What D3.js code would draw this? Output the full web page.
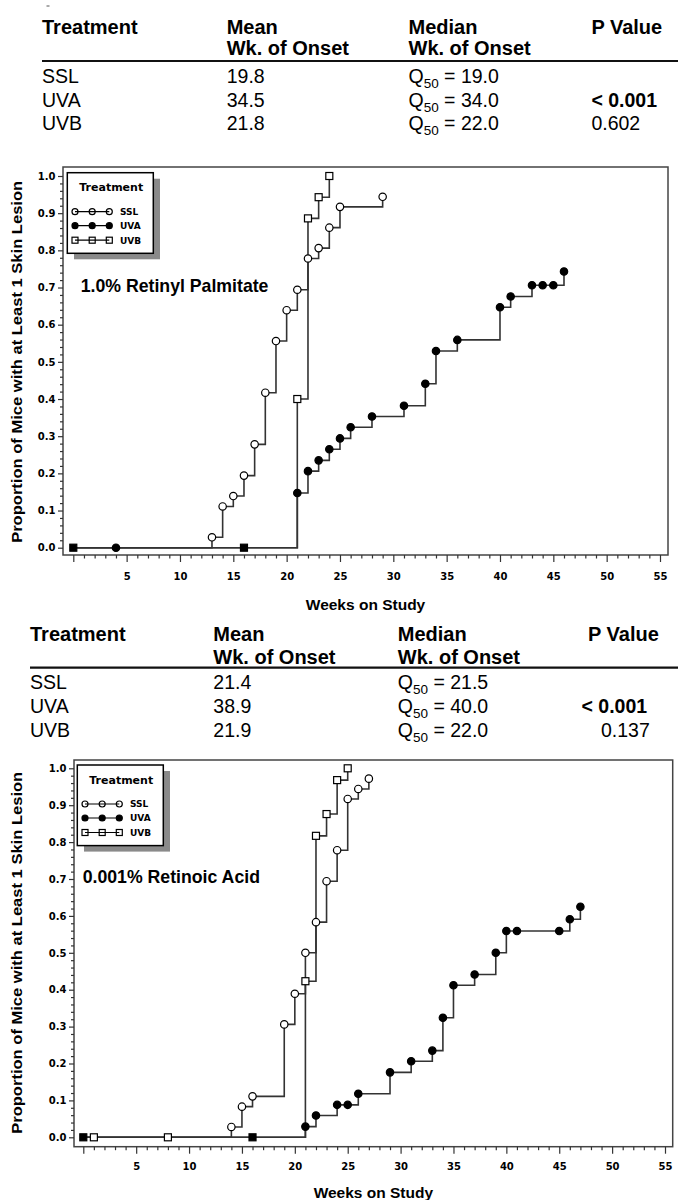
<!DOCTYPE html>
<html><head><meta charset="utf-8">
<script src="https://cdn.jsdelivr.net/npm/d3@7"></script>
<style>body{margin:0;background:#fff}svg{display:block}</style>
</head><body>
<svg id="c" width="678" height="1200"></svg>
<script>
// ---------- DATA ----------
const treatments = ["SSL", "UVA", "UVB"];
const tableHeaders1 = ["Treatment", "Mean", "Median", "P Value"];
const tableHeaders2 = ["", "Wk. of Onset", "Wk. of Onset", ""];

// 1.0% Retinyl Palmitate
const rpMean = ["19.8", "34.5", "21.8"];
const rpMedian = ["19.0", "34.0", "22.0"];
const rpP = ["", "< 0.001", "0.602"];
const rpSslWeeks = [13, 14, 15, 16, 17, 18, 19, 20, 21, 22, 23, 24, 25, 29];
const rpSslProp = [0.028, 0.111, 0.139, 0.194, 0.278, 0.417, 0.556, 0.639, 0.694, 0.778, 0.806, 0.861, 0.917, 0.944];
const rpUvaWeeks = [21, 22, 23, 24, 25, 26, 28, 31, 33, 34, 36, 40, 41, 43, 44, 45, 46];
const rpUvaProp = [0.147, 0.206, 0.235, 0.265, 0.294, 0.324, 0.353, 0.382, 0.441, 0.529, 0.559, 0.647, 0.676, 0.706, 0.706, 0.706, 0.743];
const rpUvbWeeks = [21, 22, 23, 24];
const rpUvbProp = [0.400, 0.886, 0.943, 1.000];
const rpZeroFilledSquares = [0, 16];
const rpUvaZeroMarks = [4];
const rpUvbZeroMarks = [];

// 0.001% Retinoic Acid
const raMean = ["21.4", "38.9", "21.9"];
const raMedian = ["21.5", "40.0", "22.0"];
const raP = ["", "< 0.001", "0.137"];
const raSslWeeks = [14, 15, 16, 19, 20, 21, 22, 23, 24, 25, 26, 27];
const raSslProp = [0.028, 0.083, 0.111, 0.306, 0.389, 0.500, 0.583, 0.694, 0.778, 0.917, 0.944, 0.972];
const raUvaWeeks = [21, 22, 24, 25, 26, 29, 31, 33, 34, 35, 37, 39, 40, 41, 45, 46, 47];
const raUvaProp = [0.029, 0.059, 0.088, 0.088, 0.118, 0.176, 0.206, 0.235, 0.324, 0.412, 0.441, 0.500, 0.559, 0.559, 0.559, 0.591, 0.625];
const raUvbWeeks = [21, 22, 23, 24, 25];
const raUvbProp = [0.423, 0.817, 0.876, 0.968, 1.000];
const raZeroFilledSquares = [0, 16];
const raUvaZeroMarks = [];
const raUvbZeroMarks = [1, 8];

const xMajorTicks = [0, 5, 10, 15, 20, 25, 30, 35, 40, 45, 50, 55];
const yMajorTicks = [0, 0.1, 0.2, 0.3, 0.4, 0.5, 0.6, 0.7, 0.8, 0.9, 1.0];
const xTitle = "Weeks on Study";
const yTitle = "Proportion of Mice with at Least 1 Skin Lesion";
const legendTitle = "Treatment";

// ---------- DRAW ----------
const svg = d3.select("#c");
const SANS = "'Liberation Sans', Arial, sans-serif";
const DJ = "'DejaVu Sans', sans-serif";
const LINE = "#333";

// tiny mark at top-left
svg.append("line").attr("x1", 46.5).attr("x2", 49.5).attr("y1", 6).attr("y2", 6)
  .attr("stroke", "#555").attr("stroke-width", 1);

function drawTable(L, means, medians, pvals) {
  const g = svg.append("g");
  tableHeaders1.forEach((h, i) => {
    g.append("text").attr("x", i === 3 ? L.pHeadX : L.cols[i]).attr("y", L.h1)
      .attr("font-family", SANS).attr("font-weight", "bold").attr("font-size", 20).text(h);
  });
  tableHeaders2.forEach((h, i) => {
    if (!h) return;
    g.append("text").attr("x", L.cols[i]).attr("y", L.h2)
      .attr("font-family", SANS).attr("font-weight", "bold").attr("font-size", 20).text(h);
  });
  g.append("line").attr("x1", L.cols[0]).attr("x2", 678).attr("y1", L.rule).attr("y2", L.rule)
    .attr("stroke", "#111").attr("stroke-width", 2.2);
  treatments.forEach((t, r) => {
    const y = L.rows[r];
    g.append("text").attr("x", L.cols[0]).attr("y", y).attr("font-family", SANS)
      .attr("font-size", 19.5).text(t);
    g.append("text").attr("x", L.cols[1]).attr("y", y).attr("font-family", SANS)
      .attr("font-size", 19.5).text(means[r]);
    const q = g.append("text").attr("x", L.cols[2]).attr("y", y).attr("font-family", SANS)
      .attr("font-size", 19.5);
    q.append("tspan").text("Q");
    q.append("tspan").attr("font-size", 13.5).attr("dy", 5).text("50");
    q.append("tspan").attr("dy", -5).text(" = " + medians[r]);
    if (pvals[r]) {
      g.append("text").attr("x", L.pX[r]).attr("y", y).attr("font-family", SANS)
        .attr("font-size", 19.5).attr("font-weight", pvals[r].startsWith("<") ? "bold" : "normal")
        .text(pvals[r]);
    }
  });
}

drawTable({cols: [42, 226.7, 408.5], pHeadX: 591.4, h1: 34.3, h2: 54.8, rule: 61, rows: [83.3, 106.7, 130], pX: [0, 591.4, 591.4]},
  rpMean, rpMedian, rpP);
drawTable({cols: [30, 213.3, 397.8], pHeadX: 588, h1: 640.7, h2: 664, rule: 667.7, rows: [689, 713.3, 737.3], pX: [0, 581.5, 601]},
  raMean, raMedian, raP);

function zip(w, p) { return w.map((d, i) => ({w: d, p: p[i]})); }

function marker(g, shape, filled, x, y, size, fillNone) {
  if (shape === "circle") {
    g.append("circle").attr("cx", x).attr("cy", y).attr("r", size)
      .attr("fill", filled ? "#000" : (fillNone ? "none" : "#fff"))
      .attr("stroke", "#000").attr("stroke-width", 1.2);
  } else {
    g.append("rect").attr("x", x - size).attr("y", y - size).attr("width", size * 2).attr("height", size * 2)
      .attr("fill", filled ? "#000" : (fillNone ? "none" : "#fff"))
      .attr("stroke", "#000").attr("stroke-width", 1.2);
  }
}

function drawChart(L, title, series, zeroSquares) {
  const g = svg.append("g");
  const x = d3.scaleLinear().domain([0, 55]).range([L.x0, L.x55]);
  const y = d3.scaleLinear().domain([0, 1]).range([L.y0, L.y1]);

  // frame
  g.append("rect").attr("x", L.left).attr("y", L.top).attr("width", L.right - L.left)
    .attr("height", L.bottom - L.top).attr("fill", "none").attr("stroke", "#444").attr("stroke-width", 1.5);

  // x axis
  const xa = g.append("g").attr("transform", `translate(0,${L.bottom})`)
    .call(d3.axisBottom(x).tickValues(xMajorTicks).tickSize(7).tickPadding(L.tickPad)
      .tickFormat(d => d === 0 ? "" : d));
  const xm = g.append("g").attr("transform", `translate(0,${L.bottom})`)
    .call(d3.axisBottom(x).tickValues(d3.range(0, 56).filter(d => d % 5 !== 0)).tickSize(3.5).tickFormat(""));
  // y axis
  const ya = g.append("g").attr("transform", `translate(${L.left},0)`)
    .call(d3.axisLeft(y).tickValues(yMajorTicks).tickSize(5).tickPadding(2.5).tickFormat(d3.format(".1f")));
  const ym = g.append("g").attr("transform", `translate(${L.left},0)`)
    .call(d3.axisLeft(y).tickValues(d3.range(0, 51).filter(d => d % 5 !== 0).map(d => d / 50)).tickSize(3).tickFormat(""));
  [xa, xm, ya, ym].forEach(a => {
    a.select(".domain").remove();
    a.selectAll("line").attr("stroke", "#333").attr("stroke-width", 1.2);
    a.selectAll("text").attr("font-family", DJ).attr("font-weight", "bold").attr("font-size", 10).attr("fill", "#000");
  });

  // axis titles
  g.append("text").attr("x", (L.left + L.right) / 2).attr("y", L.xLabelY).attr("text-anchor", "middle")
    .attr("font-family", SANS).attr("font-weight", "bold").attr("font-size", 15.5).text(xTitle);
  g.append("text").attr("transform", `translate(${L.yLabelX},${(L.y0 + L.y1) / 2}) rotate(-90)`)
    .attr("text-anchor", "middle").attr("font-family", SANS).attr("font-weight", "bold")
    .attr("font-size", 15).attr("textLength", 362).attr("lengthAdjust", "spacingAndGlyphs").text(yTitle);

  // lines
  const line = d3.line().x(d => x(d.w)).y(d => y(d.p)).curve(d3.curveStepAfter);
  series.forEach(s => {
    const pts = [{w: 0, p: 0}].concat(s.data);
    g.append("path").attr("d", line(pts)).attr("fill", "none").attr("stroke", LINE).attr("stroke-width", 1.6);
  });
  // zero-level markers
  series.forEach(s => s.zero.forEach(w => marker(g, s.shape, s.filled, x(w), y(0), s.shape === "circle" ? 3.7 : 3.5)));
  zeroSquares.forEach(w => marker(g, "square", true, x(w), y(0), 3.5));
  // event markers
  series.forEach(s => s.data.forEach(d => marker(g, s.shape, s.filled, x(d.w), y(d.p), s.shape === "circle" ? 3.7 : 3.5)));

  // title
  g.append("text").attr("x", L.titleX).attr("y", L.titleY).attr("font-family", SANS)
    .attr("font-weight", "bold").attr("font-size", 17.7).text(title);

  // legend
  const lx = L.left + L.legDx, ly = L.top + L.legDy;
  g.append("rect").attr("x", lx + 6.7).attr("y", ly + 6).attr("width", 86).attr("height", 80.6).attr("fill", "#8a8a8a");
  g.append("rect").attr("x", lx).attr("y", ly).attr("width", 86).attr("height", 80.6)
    .attr("fill", "#fff").attr("stroke", "#000").attr("stroke-width", 1.5);
  g.append("text").attr("x", lx + 12).attr("y", ly + 18.5).attr("font-family", DJ).attr("font-weight", "bold")
    .attr("font-size", 11).text(legendTitle);
  series.forEach((s, i) => {
    const yy = ly + [39, 53, 67.5][i];
    g.append("line").attr("x1", lx + 7.7).attr("x2", lx + 42).attr("y1", yy).attr("y2", yy)
      .attr("stroke", "#000").attr("stroke-width", 1.2);
    [7.7, 24.9, 42].forEach(dx => marker(g, s.shape, s.filled, lx + dx, yy, 3, true));
    g.append("text").attr("x", lx + 52.7).attr("y", yy + 3.3).attr("font-family", DJ).attr("font-weight", "bold")
      .attr("font-size", 9).text(s.name);
  });
}

drawChart({left: 63, right: 668, top: 167, bottom: 555, x0: 73.3, x55: 660, y0: 547.7, y1: 176,
  tickPad: 11, xLabelY: 610, yLabelX: 22, titleX: 80.7, titleY: 291.7, legDx: 4.3, legDy: 5.7},
  "1.0% Retinyl Palmitate",
  [
    {name: treatments[0], shape: "circle", filled: false, data: zip(rpSslWeeks, rpSslProp), zero: []},
    {name: treatments[1], shape: "circle", filled: true, data: zip(rpUvaWeeks, rpUvaProp), zero: rpUvaZeroMarks},
    {name: treatments[2], shape: "square", filled: false, data: zip(rpUvbWeeks, rpUvbProp), zero: rpUvbZeroMarks}
  ], rpZeroFilledSquares);

drawChart({left: 74, right: 672.7, top: 760, bottom: 1146.7, x0: 83.3, x55: 665, y0: 1137.3, y1: 768.3,
  tickPad: 9.5, xLabelY: 1198, yLabelX: 22, titleX: 82.7, titleY: 882.7, legDx: 3.3, legDy: 5},
  "0.001% Retinoic Acid",
  [
    {name: treatments[0], shape: "circle", filled: false, data: zip(raSslWeeks, raSslProp), zero: []},
    {name: treatments[1], shape: "circle", filled: true, data: zip(raUvaWeeks, raUvaProp), zero: raUvaZeroMarks},
    {name: treatments[2], shape: "square", filled: false, data: zip(raUvbWeeks, raUvbProp), zero: raUvbZeroMarks}
  ], raZeroFilledSquares);
</script>
</body></html>
